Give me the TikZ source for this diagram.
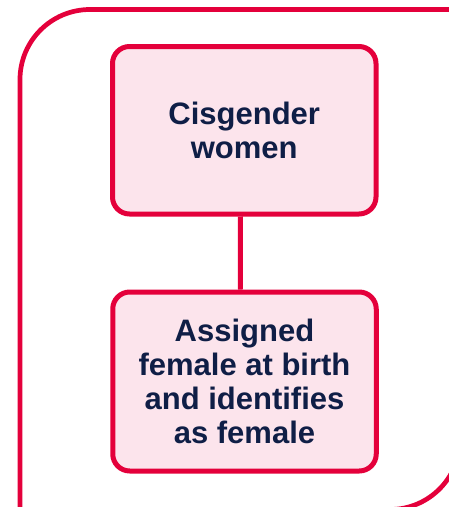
\documentclass[tikz,border=0pt]{standalone}
\usepackage{fontspec}
\setmainfont{Liberation Sans}
\definecolor{crim}{HTML}{E4003B}
\definecolor{pinkfill}{HTML}{FCE4EC}
\definecolor{navy}{HTML}{0F1E46}
\tikzset{
  frame/.style={draw=crim, line width=4.7pt},
  box/.style={draw=crim, fill=pinkfill, line width=5pt, rounded corners=17pt,
    minimum width=263.5pt, inner sep=0pt, align=center, text=navy,
    font=\fontsize{31}{34}\selectfont\bfseries},
  link/.style={draw=crim, line width=5pt}
}
\begin{document}
\begin{tikzpicture}[x=1pt,y=-1pt]
\useasboundingbox (0,0) rectangle (449,507);
\clip (0,0) rectangle (449,507);
\draw[frame] (20,509.5) -- (20,79.5) arc[start angle=180, end angle=270, radius=70]
  -- (460,9.5) -- (460,439.5) arc[start angle=0, end angle=90, radius=70] -- cycle;
\node[box, minimum height=167.5pt] (c1) at (244.25,130.25) {Cisgender\\women};
\node[box, minimum height=179pt] (c2) at (244.5,381.5) {Assigned\\female at birth\\and identifies\\as female};
\draw[link] ([xshift=-4pt]c1.south) -- ([xshift=-4pt]c2.north);
\end{tikzpicture}
\end{document}
